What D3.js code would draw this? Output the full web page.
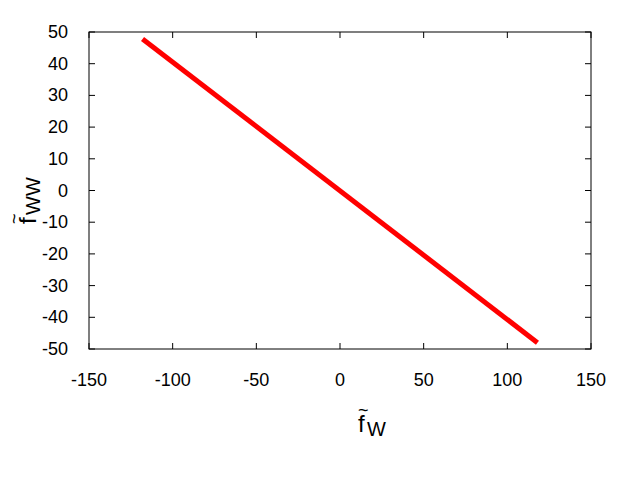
<!DOCTYPE html>
<html>
<head>
<meta charset="utf-8">
<script src="https://cdn.jsdelivr.net/npm/d3@7"></script>
<style>
body { margin: 0; background: #fff; }
text { font-family: "Liberation Sans", Arial, sans-serif; }
</style>
</head>
<body>
<svg id="chart" width="640" height="480"></svg>
<script>
var xTicks = [-150, -100, -50, 0, 50, 100, 150];
var yTicks = [-50, -40, -30, -20, -10, 0, 10, 20, 30, 40, 50];
var lineX = [-118, 118];
var lineY = [47.8, -48];

var pLeft = 89, pRight = 591, pTop = 32, pBottom = 349;
var svg = d3.select("#chart");
var x = d3.scaleLinear().domain([-150, 150]).range([pLeft, pRight]);
var y = d3.scaleLinear().domain([-50, 50]).range([pBottom, pTop]);

// frame
svg.append("rect").attr("x", pLeft).attr("y", pTop)
  .attr("width", pRight - pLeft).attr("height", pBottom - pTop)
  .attr("fill", "none").attr("stroke", "#000").attr("stroke-width", 1);

// inward ticks on all sides
xTicks.forEach(function(t) {
  svg.append("line").attr("x1", x(t)).attr("x2", x(t)).attr("y1", pBottom).attr("y2", pBottom - 6).attr("stroke", "#000");
  svg.append("line").attr("x1", x(t)).attr("x2", x(t)).attr("y1", pTop).attr("y2", pTop + 6).attr("stroke", "#000");
  svg.append("text").attr("x", x(t)).attr("y", pBottom + 37).attr("text-anchor", "middle")
    .attr("font-size", 18).text(t);
});
yTicks.forEach(function(t) {
  svg.append("line").attr("x1", pLeft).attr("x2", pLeft + 6).attr("y1", y(t)).attr("y2", y(t)).attr("stroke", "#000");
  svg.append("line").attr("x1", pRight).attr("x2", pRight - 6).attr("y1", y(t)).attr("y2", y(t)).attr("stroke", "#000");
  svg.append("text").attr("x", pLeft - 21).attr("y", y(t) + 6).attr("text-anchor", "end")
    .attr("font-size", 18).text(t);
});

// data line
var pts = lineX.map(function(v, i) { return [v, lineY[i]]; });
svg.append("path").datum(pts)
  .attr("d", d3.line().x(function(d) { return x(d[0]); }).y(function(d) { return y(d[1]); }))
  .attr("stroke", "#ff0000").attr("stroke-width", 5).attr("fill", "none");

// x label f~_W
var xl = svg.append("g").attr("transform", "translate(358,432)");
xl.append("text").attr("font-size", 24).text("f");
xl.append("text").attr("x", 0).attr("y", -16).attr("font-size", 18).text("~");
xl.append("text").attr("x", 9).attr("y", 4).attr("font-size", 20).text("W");

// y label f~_WW rotated
var yl = svg.append("g").attr("transform", "translate(36,224) rotate(-90)");
yl.append("text").attr("font-size", 24).text("f");
yl.append("text").attr("x", 0).attr("y", -16).attr("font-size", 18).text("~");
yl.append("text").attr("x", 9).attr("y", 4).attr("font-size", 20).text("WW");
</script>
</body>
</html>
